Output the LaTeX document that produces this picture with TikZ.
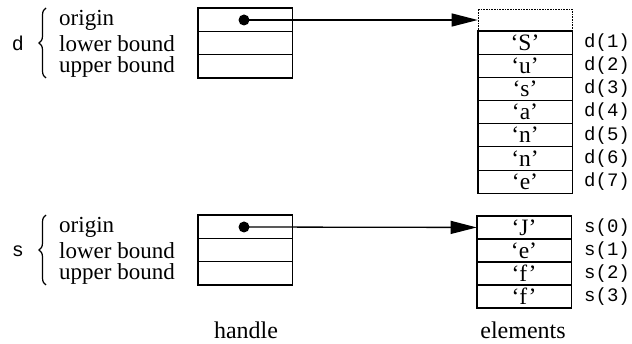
\documentclass[tikz,border=0pt]{standalone}
\usepackage{fontspec}
\setmainfont{Liberation Serif}
\setmonofont{Liberation Mono}
\usetikzlibrary{arrows.meta,decorations.pathreplacing}
\begin{document}
\begin{tikzpicture}[x=1pt,y=-1pt,
  cell/.style={draw,line width=0.6pt,minimum width=94pt,minimum height=23.2pt,inner sep=0pt,font=\fontsize{23.5}{23.5}\selectfont},
  dotcell/.style={draw,densely dotted,line width=0.6pt,minimum width=94pt,minimum height=22pt,inner sep=0pt},
  outer/.style={line width=1.6pt},
  lbl/.style={anchor=west,inner sep=0pt,font=\fontsize{23}{23}\selectfont},
  idx/.style={anchor=west,inner sep=0pt,font=\ttfamily\fontsize{19}{19}\selectfont},
  var/.style={inner sep=0pt,font=\ttfamily\fontsize{20}{20}\selectfont},
  br/.style={decorate,decoration={brace,amplitude=7pt},line width=1.2pt},
  ptr/.style={line width=1.3pt,-{Triangle[length=26pt,width=13pt]}},
  captext/.style={inner sep=0pt,font=\fontsize{24}{24}\selectfont}]
\useasboundingbox (0,0) rectangle (632,344);
% ---- d handle
\node[cell] (dh1) at (245,20) {};
\node[cell] (dh2) at (245,43.2) {};
\node[cell] (dh3) at (245,66.4) {};
\draw[outer] (dh1.north west) rectangle (dh3.south east);
\node[var] (dn) at (18,43) {d};
\draw[br] (46,78) -- (46,8);
\node[lbl] (do) at (59,20) {origin};
\node[lbl] (dl) at (59,43.5) {lower bound};
\node[lbl] (du) at (59,67) {upper bound};
\fill (244,20) circle (5.5pt) coordinate (ddot);
% ---- d elements
\node[dotcell] (d0) at (525,20) {};
\foreach \i/\c in {1/S,2/u,3/s,4/a,5/n,6/n,7/e}{
  \node[cell] (d\i) at (525,{31+23.15*(\i-0.5)}) {`\c'};
  \node[idx] (di\i) at (584,{31+23.15*(\i-0.5)}) {d(\i)};
}
\draw[outer] (d1.north west) rectangle (d7.south east);
\draw[ptr] (ddot) -- (d0.west);
% ---- s handle
\node[cell] (sh1) at (245,227) {};
\node[cell] (sh2) at (245,250.2) {};
\node[cell] (sh3) at (245,273.4) {};
\draw[outer] (sh1.north west) rectangle (sh3.south east);
\node[var] (sn) at (18,251) {s};
\draw[br] (46,285) -- (46,215);
\node[lbl] (so) at (59,227) {origin};
\node[lbl] (sl) at (59,250.5) {lower bound};
\node[lbl] (su) at (59,274) {upper bound};
\fill (244,227) circle (5.5pt) coordinate (sdot);
% ---- s elements
\foreach \i/\c in {0/J,1/e,2/f,3/f}{
  \node[cell] (s\i) at (524,{216+22.9*(\i+0.5)}) {`\c'};
  \node[idx] (si\i) at (584,{216+22.9*(\i+0.5)}) {s(\i)};
}
\draw[outer] (s0.north west) rectangle (s3.south east);
\draw[ptr] (sdot) -- (s0.west);
% ---- captions
\node[captext] (hc) at (246,330) {handle};
\node[captext] (ec) at (523,330) {elements};
\end{tikzpicture}
\end{document}
